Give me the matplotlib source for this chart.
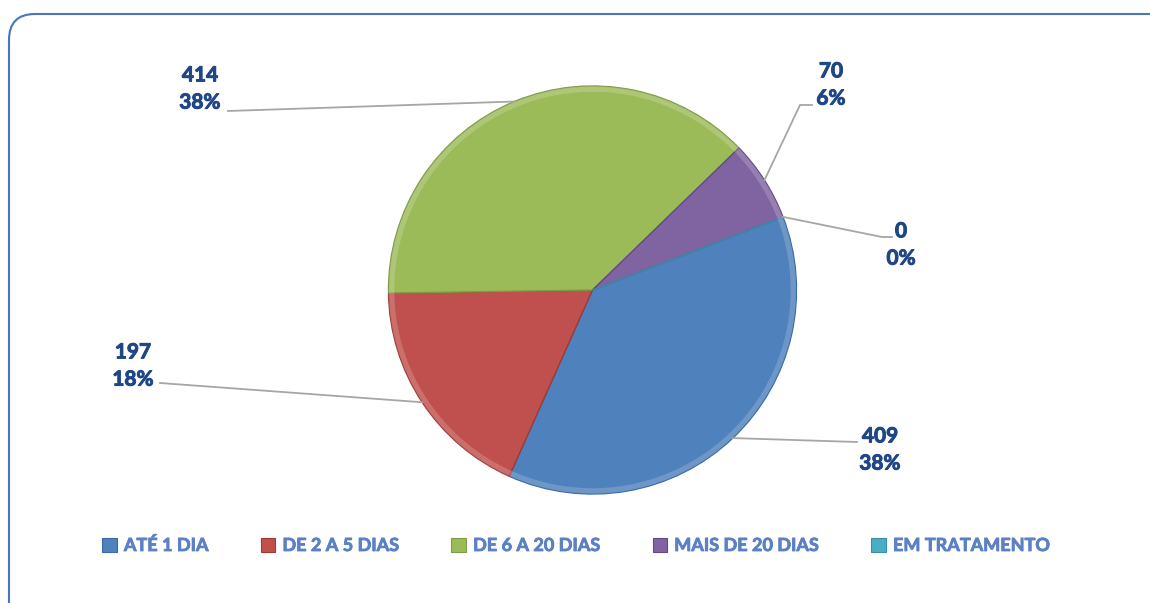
import matplotlib.pyplot as plt
import numpy as np
import matplotlib.patheffects as pe
from matplotlib.patches import FancyBboxPatch, Patch

""" Tempo de tratamento - pizza """

categories = ["ATÉ 1 DIA", "DE 2 A 5 DIAS", "DE 6 A 20 DIAS", "MAIS DE 20 DIAS", "EM TRATAMENTO"]
values = [409, 197, 414, 70, 0]
percent_labels = ["38%", "18%", "38%", "6%", "0%"]

colours = ["#4F81BD", "#C0504D", "#9BBB59", "#8064A2", "#4BACC6"]
edge_colours = ["#3A68A8", "#9E3A37", "#7E9C44", "#634A86", "#3A8FA8"]

W, H = 1150, 603
label_color = "#1F4686"
legend_color = "#5B80C4"
line_color = "#A6A6A6"

# label layout in pixel coords (x, y from top): text centre, leader line points
label_layout = [
    ((880, 450), [(857, 442)]),
    ((133, 366), [(160, 383)]),
    ((200, 89), [(228, 111)]),
    ((831, 85), [(800, 105), (812, 105)]),
    ((901, 245), [(882, 237), (892, 237)]),
]


def px(x, y):
    return x, H - y


fig = plt.figure(figsize=(W / 100, H / 100), dpi=100)
ax = fig.add_axes([0, 0, 1, 1])

# rounded frame
frame = FancyBboxPatch(px(9, 640), 1200, 626, boxstyle="round,pad=0,rounding_size=26",
                       facecolor="white", edgecolor="#4A74BD", linewidth=1.5, zorder=0)
ax.add_patch(frame)

cx, cy = px(592.5, 290)
radius = 204
wedges, _ = ax.pie(values, colors=colours, startangle=21, counterclock=False,
                   center=(cx, cy), radius=radius, frame=True,
                   wedgeprops=dict(linewidth=1.0, zorder=2))
for w, ec in zip(wedges, edge_colours):
    w.set_edgecolor(ec)

# soft highlight rim for a bit of depth
for w, c in zip(wedges, colours):
    t1, t2 = w.theta1, w.theta2
    if t2 - t1 < 0.1:
        continue
    ang = np.radians(np.linspace(t1, t2, 60))
    ax.plot(cx + (radius - 3) * np.cos(ang), cy + (radius - 3) * np.sin(ang),
            color="white", alpha=0.18, lw=4, zorder=3, solid_capstyle="butt")

ax.set_xlim(0, W)
ax.set_ylim(0, H)
ax.set_aspect("equal")
ax.axis("off")

thick = [pe.withStroke(linewidth=0.7, foreground=label_color)]
for w, v, p, (tpos, pts) in zip(wedges, values, percent_labels, label_layout):
    mid = np.radians((w.theta1 + w.theta2) / 2)
    start = (cx + radius * np.cos(mid), cy + radius * np.sin(mid))
    xs = [start[0]] + [px(*q)[0] for q in pts]
    ys = [start[1]] + [px(*q)[1] for q in pts]
    ax.plot(xs, ys, color=line_color, lw=1.3, zorder=4)
    ax.text(*px(*tpos), f"{v}\n{p}", ha="center", va="center", fontsize=15,
            fontweight="bold", family="Lato", color=label_color, linespacing=1.45,
            zorder=5, path_effects=thick)

handles = [Patch(facecolor=c, edgecolor=e, linewidth=0.8) for c, e in zip(colours, edge_colours)]
leg = fig.legend(handles, categories, loc="center", bbox_to_anchor=(576 / W, 1 - 545 / H), ncol=5,
                 frameon=False, handlelength=0.8, handleheight=0.8, handletextpad=0.4,
                 columnspacing=2.9, prop=dict(family="Lato", weight="bold", size=13))
for t in leg.get_texts():
    t.set_color(legend_color)
    t.set_path_effects([pe.withStroke(linewidth=0.6, foreground=legend_color)])

fig.savefig("out.png", dpi=100)
